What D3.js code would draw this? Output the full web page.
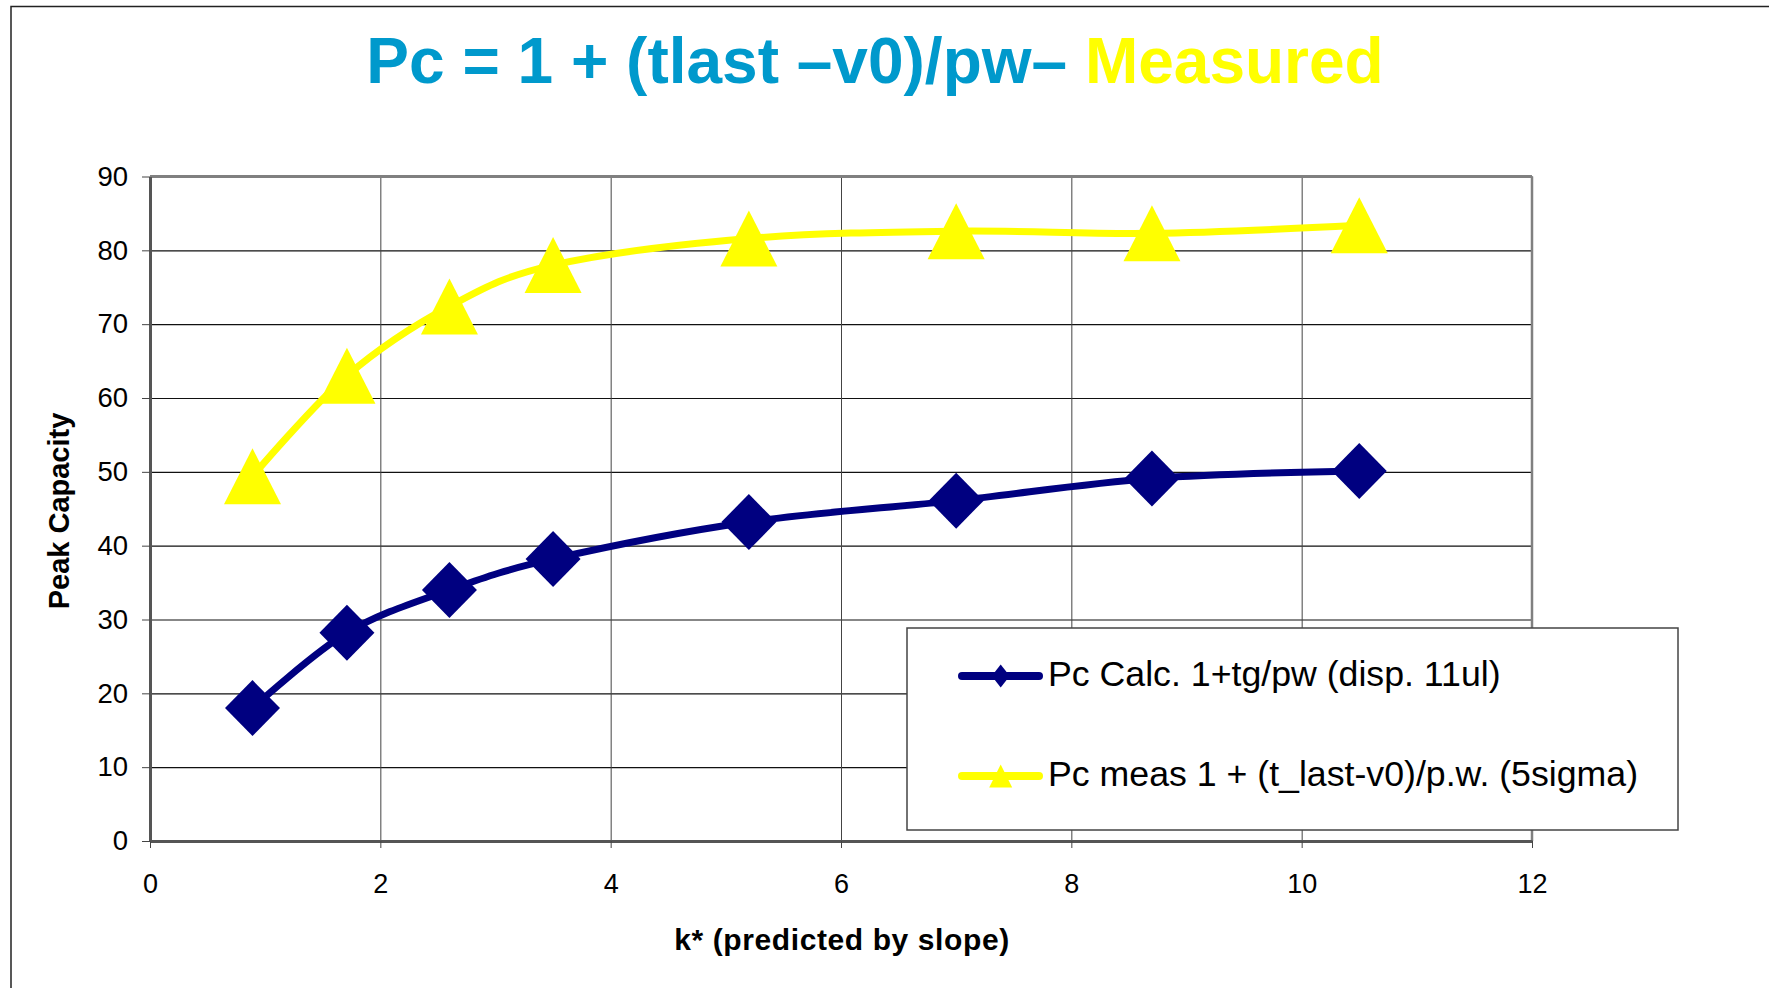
<!DOCTYPE html>
<html>
<head>
<meta charset="utf-8">
<script src="https://cdn.jsdelivr.net/npm/d3@7"></script>
<style>
  html, body { margin: 0; padding: 0; background: #fff; }
  svg { display: block; }
  text { font-family: "Liberation Sans", Arial, sans-serif; }
</style>
</head>
<body>
<svg id="chart" width="1769" height="988"></svg>
<script>
// ---- data ----
const kValues = [0.89, 1.71, 2.6, 3.5, 5.2, 7.0, 8.7, 10.5];
const calcValues = [18.0, 28.2, 34.0, 38.2, 43.2, 46.1, 49.1, 50.1];
const measValues = [49.4, 63.0, 72.4, 78.0, 81.6, 82.6, 82.3, 83.4];
const xTicks = [0, 2, 4, 6, 8, 10, 12];
const yTicks = [0, 10, 20, 30, 40, 50, 60, 70, 80, 90];
const seriesNames = ["Pc Calc. 1+tg/pw (disp. 11ul)", "Pc meas 1 + (t_last-v0)/p.w. (5sigma)"];
const titleMain = "Pc = 1 + (tlast \u2013v0)/pw\u2013 ";
const titleAccent = "Measured";
const xTitle = "k* (predicted by slope)";
const yTitle = "Peak Capacity";

// ---- layout ----
const svg = d3.select("#chart");
const plot = { left: 150, right: 1532, top: 176.5, bottom: 841 };
const x = d3.scaleLinear().domain([0, 12]).range([plot.left, plot.right]);
const y = d3.scaleLinear().domain([0, 90]).range([plot.bottom, plot.top]);
const navy = "#000080", yellow = "#ffff00";

// outer frame
svg.append("rect").attr("x", 11).attr("y", 6.5).attr("width", 2000).attr("height", 2000)
  .attr("fill", "none").attr("stroke", "#222").attr("stroke-width", 1.5);

// title
const title = svg.append("text").attr("x", 875).attr("y", 83)
  .attr("text-anchor", "middle").attr("font-size", 64).attr("font-weight", "bold");
title.append("tspan").attr("fill", "#0099cc").text(titleMain);
title.append("tspan").attr("fill", yellow).text(titleAccent);

// plot background
svg.append("rect").attr("x", plot.left).attr("y", plot.top)
  .attr("width", plot.right - plot.left).attr("height", plot.bottom - plot.top).attr("fill", "#fff");

// gridlines
const gy = svg.append("g").attr("transform", `translate(${plot.left},0)`)
  .call(d3.axisLeft(y).tickValues(yTicks).tickSize(-(plot.right - plot.left)).tickFormat(""));
gy.select(".domain").remove();
gy.selectAll("line").attr("stroke", "#111").attr("stroke-width", 1.2);
const gx = svg.append("g").attr("transform", `translate(0,${plot.bottom})`)
  .call(d3.axisBottom(x).tickValues(xTicks).tickSize(-(plot.bottom - plot.top)).tickFormat(""));
gx.select(".domain").remove();
gx.selectAll("line").attr("stroke", "#444").attr("stroke-width", 1);

// plot border top/right
svg.append("line").attr("x1", plot.left).attr("x2", plot.right).attr("y1", plot.top).attr("y2", plot.top)
  .attr("stroke", "#808080").attr("stroke-width", 3);
svg.append("line").attr("x1", plot.right).attr("x2", plot.right).attr("y1", plot.top).attr("y2", plot.bottom)
  .attr("stroke", "#808080").attr("stroke-width", 2.5);

// axes
const ax = svg.append("g").attr("transform", `translate(0,${plot.bottom})`)
  .call(d3.axisBottom(x).tickValues(xTicks).tickSize(7).tickPadding(26).tickSizeOuter(0));
ax.select(".domain").attr("stroke", "#555").attr("stroke-width", 3);
ax.selectAll("line").attr("stroke", "#444");
ax.selectAll("text").attr("font-size", 27).attr("fill", "#000")
  .style("font-family", '"Liberation Sans", Arial, sans-serif');

const ay = svg.append("g").attr("transform", `translate(${plot.left},0)`)
  .call(d3.axisLeft(y).tickValues(yTicks).tickSize(8).tickPadding(14).tickSizeOuter(0));
ay.select(".domain").attr("stroke", "#555").attr("stroke-width", 3);
ay.selectAll("line").attr("stroke", "#444");
ay.selectAll("text").attr("font-size", 27.5).attr("fill", "#000")
  .style("font-family", '"Liberation Sans", Arial, sans-serif');

// axis titles
svg.append("text").attr("x", 842).attr("y", 950).attr("text-anchor", "middle")
  .attr("font-size", 30).attr("font-weight", "bold").attr("letter-spacing", 0.6).text(xTitle);
svg.append("text").attr("transform", "translate(69,511) rotate(-90)").attr("text-anchor", "middle")
  .attr("font-size", 29).attr("font-weight", "bold").text(yTitle);

// series
const calcData = kValues.map((k, i) => [k, calcValues[i]]);
const measData = kValues.map((k, i) => [k, measValues[i]]);
const line = d3.line().x(d => x(d[0])).y(d => y(d[1])).curve(d3.curveCardinal.tension(0));

function diamond(w, h) { return `M0,${-h/2}L${w/2},0L0,${h/2}L${-w/2},0Z`; }
function triangle(w, h) { return `M0,${-h/2}L${w/2},${h/2}L${-w/2},${h/2}Z`; }

svg.append("path").datum(measData).attr("d", line).attr("fill", "none")
  .attr("stroke", yellow).attr("stroke-width", 7).attr("stroke-linejoin", "round");
svg.append("path").datum(calcData).attr("d", line).attr("fill", "none")
  .attr("stroke", navy).attr("stroke-width", 7).attr("stroke-linejoin", "round");

svg.append("g").selectAll("path").data(calcData).join("path")
  .attr("transform", d => `translate(${x(d[0])},${y(d[1])})`)
  .attr("d", diamond(55, 56)).attr("fill", navy);
svg.append("g").selectAll("path").data(measData).join("path")
  .attr("transform", d => `translate(${x(d[0])},${y(d[1])})`)
  .attr("d", triangle(57, 56)).attr("fill", yellow);

// legend
const lg = svg.append("g");
lg.append("rect").attr("x", 907).attr("y", 628).attr("width", 771).attr("height", 202)
  .attr("fill", "#fff").attr("stroke", "#444").attr("stroke-width", 1.5);
const items = [
  { name: seriesNames[0], color: navy, y: 676, marker: diamond(18, 23) },
  { name: seriesNames[1], color: yellow, y: 776, marker: triangle(23, 23) }
];
items.forEach(it => {
  lg.append("line").attr("x1", 962).attr("x2", 1039).attr("y1", it.y).attr("y2", it.y)
    .attr("stroke", it.color).attr("stroke-width", 8).attr("stroke-linecap", "round");
  lg.append("path").attr("transform", `translate(1000.7,${it.y})`).attr("d", it.marker).attr("fill", it.color);
  lg.append("text").attr("x", 1048).attr("y", it.y + 10).attr("font-size", 35.7).attr("fill", "#000").text(it.name);
});
</script>
</body>
</html>
